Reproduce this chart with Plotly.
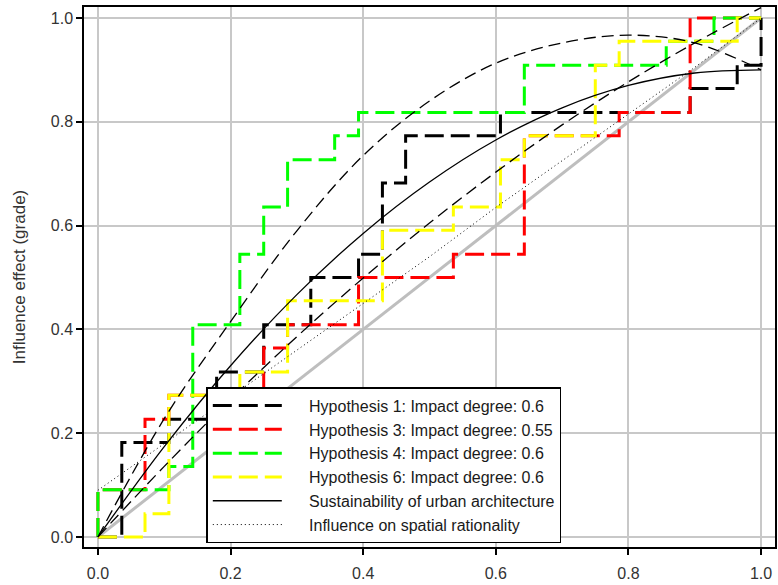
import plotly.graph_objects as go

# ---- data ----
h1_x = [0, 0.036, 0.107, 0.179, 0.25, 0.321, 0.393, 0.429, 0.464, 0.607, 0.893, 0.964, 1.0]
h1_y = [0, 0.182, 0.227, 0.318, 0.409, 0.5, 0.545, 0.682, 0.773, 0.818, 0.864, 0.909, 1.0]

h3_x = [0, 0, 0.071, 0.107, 0.25, 0.286, 0.393, 0.536, 0.643, 0.786, 0.893, 1.0]
h3_y = [0, 0.091, 0.227, 0.273, 0.364, 0.409, 0.5, 0.545, 0.773, 0.818, 1.0, 1.0]

h4_x = [0, 0, 0.107, 0.143, 0.214, 0.25, 0.286, 0.357, 0.393, 0.643, 0.857, 0.929, 1.0]
h4_y = [0, 0.091, 0.136, 0.409, 0.545, 0.636, 0.727, 0.773, 0.818, 0.909, 0.955, 1.0, 1.0]

h6_x = [0, 0.071, 0.107, 0.214, 0.286, 0.429, 0.536, 0.607, 0.643, 0.75, 0.786, 0.964, 1.0]
h6_y = [0, 0.045, 0.273, 0.318, 0.455, 0.591, 0.636, 0.727, 0.773, 0.909, 0.955, 1.0, 1.0]

curve_x = [0, 0.1, 0.2, 0.3, 0.4, 0.5, 0.6, 0.7, 0.8, 0.9, 1.0]
sustain_y = [0, 0.174, 0.33, 0.467, 0.585, 0.684, 0.765, 0.827, 0.87, 0.894, 0.90]
spatial_y = [0.09, 0.18, 0.27, 0.36, 0.45, 0.54, 0.635, 0.725, 0.815, 0.905, 1.0]
upper_dash_y = [0, 0.228, 0.415, 0.59, 0.735, 0.84, 0.913, 0.952, 0.967, 0.952, 0.90]
lower_dash_y = [0, 0.136, 0.265, 0.386, 0.499, 0.605, 0.703, 0.794, 0.877, 0.952, 1.02]

diag_x = [0, 1]
diag_y = [0, 1]

tick_vals = [0, 0.2, 0.4, 0.6, 0.8, 1.0]
tick_text = ["0.0", "0.2", "0.4", "0.6", "0.8", "1.0"]

names = ["Hypothesis 1: Impact degree: 0.6",
         "Hypothesis 3: Impact degree: 0.55",
         "Hypothesis 4: Impact degree: 0.6",
         "Hypothesis 6: Impact degree: 0.6",
         "Sustainability of urban architecture",
         "Influence on spatial rationality"]

FONT = "Liberation Sans, Arial, sans-serif"
STEP_DASH = "19px,7px"
PAD = "\u00a0" * 5

fig = go.Figure()

fig.add_trace(go.Scatter(x=diag_x, y=diag_y, mode="lines",
                         line=dict(color="#BEBEBE", width=3), showlegend=False, hoverinfo="skip"))

for xs, ys, col, nm in [(h1_x, h1_y, "#000000", names[0]),
                        (h3_x, h3_y, "#FF0000", names[1]),
                        (h4_x, h4_y, "#00FF00", names[2]),
                        (h6_x, h6_y, "#FFFF00", names[3])]:
    fig.add_trace(go.Scatter(x=xs, y=ys, mode="lines", name=PAD + nm,
                             line=dict(color=col, width=3, shape="hv", dash=STEP_DASH)))

fig.add_trace(go.Scatter(x=curve_x, y=sustain_y, mode="lines", name=PAD + names[4],
                         line=dict(color="black", width=1.3, shape="spline")))
fig.add_trace(go.Scatter(x=curve_x, y=spatial_y, mode="lines", name=PAD + names[5],
                         line=dict(color="black", width=1, dash="1px,3px")))
fig.add_trace(go.Scatter(x=curve_x, y=upper_dash_y, mode="lines", showlegend=False,
                         line=dict(color="black", width=1.3, shape="spline", dash="12px,6px")))
fig.add_trace(go.Scatter(x=curve_x, y=lower_dash_y, mode="lines", showlegend=False,
                         line=dict(color="black", width=1.3, shape="spline", dash="12px,6px")))

axis_common = dict(showline=True, linecolor="black", linewidth=1.5, mirror=True,
                   ticks="outside", ticklen=6, tickwidth=1.5, tickcolor="black",
                   showgrid=True, gridcolor="#C8C8C8", gridwidth=1.5, zeroline=False,
                   tickvals=tick_vals, ticktext=tick_text,
                   tickfont=dict(family=FONT, size=16, color="#333333"))

fig.update_layout(
    width=778, height=585,
    margin=dict(l=84, r=1, t=7, b=38, pad=0),
    paper_bgcolor="white", plot_bgcolor="white",
    font=dict(family=FONT, size=16, color="#333333"),
    xaxis=dict(range=[-0.021, 1.021], ticklabelstandoff=5, **axis_common),
    yaxis=dict(range=[-0.0193, 1.0212],
               title=dict(text="Influence effect (grade)", font=dict(family=FONT, size=17, color="#333333"), standoff=21),
               **axis_common),
    legend=dict(x=0.177, y=0.296, xanchor="left", yanchor="top",
                bgcolor="white", bordercolor="black", borderwidth=1.5,
                font=dict(family=FONT, size=16, color="#1a1a1a"),
                itemwidth=69, tracegroupgap=0),
)

fig.write_html("out.html", config={"displayModeBar": False},
               post_script="document.body.style.margin='0px';document.body.style.padding='0px';")
